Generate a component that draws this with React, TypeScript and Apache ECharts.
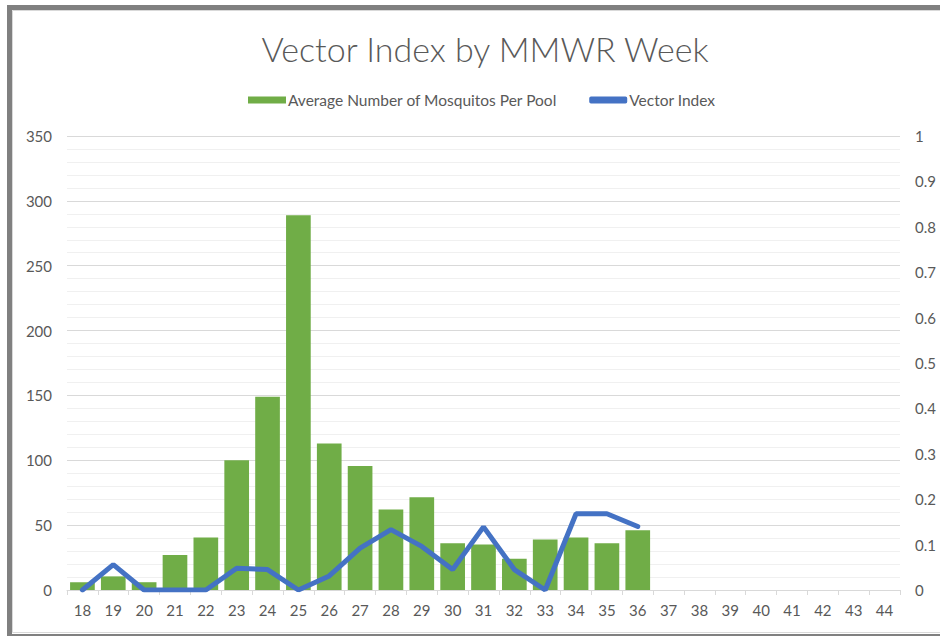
import React, { useEffect, useRef } from "react";
import * as echarts from "echarts";

const weeks = ["18","19","20","21","22","23","24","25","26","27","28","29","30","31","32","33","34","35","36","37","38","39","40","41","42","43","44"];
const avgMosquitos = [6, 10.5, 6, 27, 40.5, 100, 149, 289, 113, 95.5, 62, 71.5, 36, 35, 24, 39, 40.5, 36, 46, null, null, null, null, null, null, null, null];
const vectorIndex = [0, 0.056, 0, 0, 0, 0.048, 0.045, 0, 0.031, 0.092, 0.133, 0.096, 0.045, 0.139, 0.045, 0, 0.168, 0.168, 0.14, null, null, null, null, null, null, null, null];

const FONT = "Lato";
const TEXT = "#595959";

export default function App() {
  const ref = useRef<HTMLDivElement>(null);
  useEffect(() => {
    if (!ref.current) return;
    const chart = echarts.init(ref.current, null, { renderer: "svg" });
    chart.setOption({
      animation: false,
      backgroundColor: "#ffffff",
      textStyle: { fontFamily: FONT },
      title: {
        text: "Vector Index by MMWR Week",
        left: 480,
        textAlign: "center",
        top: 26,
        textStyle: { fontFamily: FONT, fontWeight: 300, fontSize: 34, color: TEXT },
      },
      legend: {
        top: 92,
        left: 248,
        padding: 0,
        itemGap: 32,
        itemWidth: 38,
        itemHeight: 7,
        textStyle: { fontFamily: FONT, fontSize: 15.5, color: TEXT, padding: [0, 0, 0, -3] },
        data: [
          { name: "Average Number of Mosquitos Per Pool", icon: "rect" },
          { name: "Vector Index", icon: "roundRect" },
        ],
      },
      graphic: [
        {
          type: "rect",
          shape: { x: 12.5, y: 10.5, width: 940, height: 622 },
          style: { fill: "none", stroke: "#d9d9d9", lineWidth: 1 },
          silent: true,
        },
        {
          type: "rect",
          shape: { x: 9.5, y: 7.5, width: 945, height: 629 },
          style: { fill: "none", stroke: "#808080", lineWidth: 5 },
          silent: true,
        },
      ],
      grid: { left: 67, right: 40, top: 136, bottom: 46 },
      xAxis: {
        type: "category",
        data: weeks,
        boundaryGap: true,
        axisLine: { lineStyle: { color: "#d9d9d9", width: 1 } },
        axisTick: { show: true, length: 5, lineStyle: { color: "#d9d9d9" } },
        axisLabel: { color: TEXT, fontSize: 15, fontFamily: FONT, margin: 12 },
      },
      yAxis: [
        {
          type: "value",
          min: 0,
          max: 350,
          interval: 50,
          axisLine: { show: false },
          axisTick: { show: false },
          axisLabel: { color: TEXT, fontSize: 15, fontFamily: FONT, margin: 15 },
          splitLine: { show: true, lineStyle: { color: "#d9d9d9", width: 1 } },
          minorTick: { show: false, splitNumber: 5 },
          minorSplitLine: { show: true, lineStyle: { color: "#f0f0f0", width: 1 } },
        },
        {
          type: "value",
          min: 0,
          max: 1,
          interval: 0.1,
          position: "right",
          axisLine: { show: false },
          axisTick: { show: false },
          axisLabel: { color: TEXT, fontSize: 15, fontFamily: FONT, margin: 15 },
          splitLine: { show: false },
        },
      ],
      series: [
        {
          name: "Average Number of Mosquitos Per Pool",
          type: "bar",
          data: avgMosquitos,
          barCategoryGap: "20%",
          itemStyle: { color: "#70AD47" },
          yAxisIndex: 0,
        },
        {
          name: "Vector Index",
          type: "line",
          data: vectorIndex,
          yAxisIndex: 1,
          symbol: "none",
          lineStyle: { color: "#4472C4", width: 5, cap: "round" },
          itemStyle: { color: "#4472C4" },
        },
      ],
    });
    return () => chart.dispose();
  }, []);
  return (
    <div
      ref={ref}
      style={{ position: "absolute", left: 0, top: 0, width: 940, height: 636 }}
    />
  );
}
